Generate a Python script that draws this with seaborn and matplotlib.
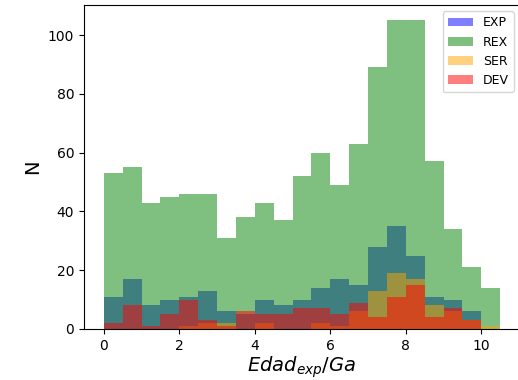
import numpy as np
import pandas as pd
import matplotlib
matplotlib.use("Agg")
import matplotlib.pyplot as plt
from matplotlib.patches import Patch
import seaborn as sns

# Age bins (Ga) and counts per bin for each population
bin_width = 0.5
age_min, age_max = 0.0, 10.5
bin_centers = np.arange(age_min + bin_width / 2, age_max, bin_width)

exp_counts = [11, 17, 8, 10, 11, 13, 6, 5, 10, 8, 10, 14, 17, 15, 28, 35, 25, 11, 10, 6, 0]
rex_counts = [53, 55, 43, 45, 46, 46, 31, 38, 43, 37, 52, 60, 49, 63, 89, 105, 105, 57, 34, 21, 14]
ser_counts = [0, 0, 0, 0, 1, 2, 2, 0, 2, 0, 0, 2, 1, 6, 13, 19, 17, 8, 6, 3, 1]
dev_counts = [2, 8, 1, 5, 10, 3, 1, 6, 5, 5, 7, 7, 5, 9, 4, 11, 15, 4, 7, 3, 0]

labels = ["EXP", "REX", "SER", "DEV"]
colors = ["blue", "green", "orange", "red"]
series = [exp_counts, rex_counts, ser_counts, dev_counts]

fig = plt.figure(figsize=(5.18, 3.80), dpi=100)
ax = fig.add_axes([84 / 518, 51 / 380, 436 / 518, 324 / 380])

for counts, color in zip(series, colors):
    df = pd.DataFrame({"edad": bin_centers, "n": np.asarray(counts, dtype=float)})
    sns.histplot(data=df, x="edad", weights="n", binwidth=bin_width,
                 binrange=(age_min, age_max), element="step",
                 fill=True, alpha=0.5, color=color, linewidth=0, ax=ax)

ax.set_xlabel(r"$Edad_{exp}/Ga$", fontsize=14, labelpad=1)
ax.set_ylabel("N", fontsize=14)
ax.set_xticks([0, 2, 4, 6, 8, 10])
ax.margins(x=0.05, y=0.05)

handles = [Patch(facecolor=c, alpha=0.5, label=l) for c, l in zip(colors, labels)]
ax.legend(handles=handles, loc="upper right", fontsize=9)

fig.savefig("out.png", dpi=100)
